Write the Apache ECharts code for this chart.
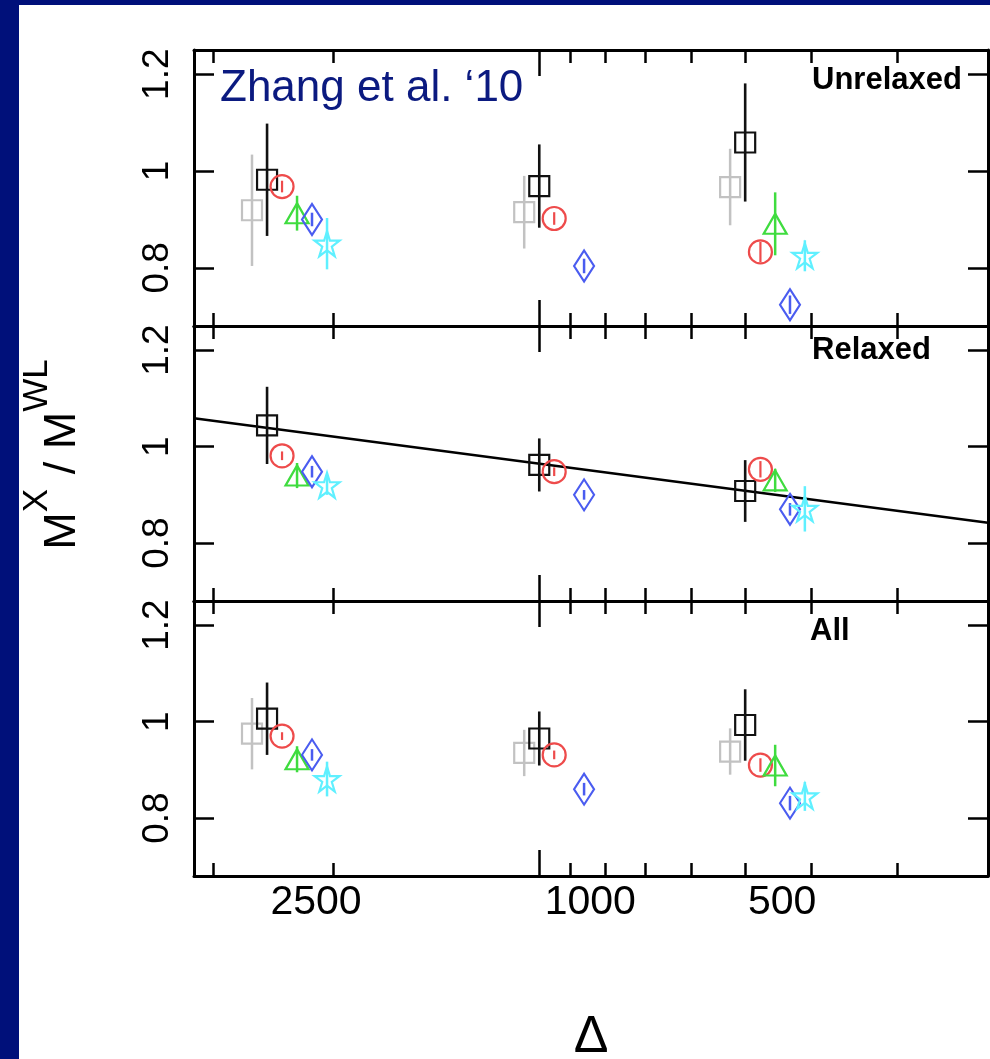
<!DOCTYPE html>
<html>
<head>
<meta charset="utf-8">
<script src="https://cdn.jsdelivr.net/npm/echarts@6/dist/echarts.min.js"></script>
<style>
  html, body { margin: 0; padding: 0; width: 990px; height: 1059px; background: #00107a; overflow: hidden; }
  #chart { position: absolute; left: 19px; top: 5px; width: 971px; height: 1054px; background: #ffffff; }
</style>
</head>
<body>
<div id="chart"></div>
<script>
// Overdensity groups (x axis is log-scaled and runs from high to low Δ)
const DELTA = [2500, 1000, 500];
const deltaLabels = ['2500', '1000', '500'];

// Δ at which each estimator is plotted (staggered within each group)
const xGray  = [2630, 1052, 526];
const xBlack = [2500, 1000, 500];
const xRed   = [2377, 951, 475];
const xGreen = [2260, 904, 452];
const xBlue  = [2149, 860, 430];
const xCyan  = [2043, 817, 409];

// Panels, top to bottom
const panelNames = ['Unrelaxed', 'Relaxed', 'All'];

// M^X / M^WL per panel (rows) and Δ group (columns), with 1σ errors
const grayVal  = [[0.919, 0.915, 0.967], [null, null, null], [0.975, 0.935, 0.938]];
const grayErr  = [[0.115, 0.075, 0.079], [null, null, null], [0.074, 0.048, 0.048]];
const blackVal = [[0.982, 0.969, 1.059], [1.044, 0.962, 0.908], [1.006, 0.965, 0.993]];
const blackErr = [[0.116, 0.086, 0.122], [0.080, 0.055, 0.064], [0.075, 0.056, 0.074]];
const redVal   = [[0.968, 0.902, 0.833], [0.981, 0.948, 0.953], [0.970, 0.931, 0.910]];
const redErr   = [[0.012, 0.013, 0.021], [0.009, 0.009, 0.017], [0.008, 0.009, 0.014]];
const greenVal = [[0.913, null, 0.891], [0.940, null, 0.930], [0.922, null, 0.909]];
const greenErr = [[0.036, null, 0.065], [0.026, null, 0.024], [0.027, null, 0.043]];
const blueVal  = [[0.900, 0.804, 0.724], [0.948, 0.900, 0.870], [0.931, 0.860, 0.831]];
const blueErr  = [[0.014, 0.015, 0.019], [0.012, 0.010, 0.013], [0.012, 0.013, 0.015]];
const cyanVal  = [[0.850, null, 0.825], [0.920, null, 0.871], [0.881, null, 0.845]];
const cyanErr  = [[0.053, null, 0.032], [0.020, null, 0.047], [0.036, null, 0.030]];

// Power-law fit for the relaxed sample, evaluated at the ends of the Δ range
const fitDelta = [3197, 220.8];
const fitRatio = [1.059, 0.842];

// Tick positions
const yTicks = [0.8, 1, 1.2];
const minorDeltaTicks = [3000, 2000, 900, 800, 700, 600, 500, 400, 300];
const majorDeltaTicks = [1000];

const lg = Math.log10;
const DELTA_MIN = 220.8, DELTA_MAX = 3197;
const FONT = '"Liberation Sans", Arial, Helvetica, sans-serif';

const chart = echarts.init(document.getElementById('chart'), null, { renderer: 'canvas' });

const gridBoxes = [
  { top: 45, height: 276 },
  { top: 321, height: 275 },
  { top: 596, height: 275 }
];
const grid = gridBoxes.map(b => ({ left: 175, right: 2, top: b.top, height: b.height, outerBoundsMode: 'none', containLabel: false }));

function xAxisFor(g, position, ticks, len, showLine, extra) {
  return Object.assign({
    type: 'value', gridIndex: g, position: position,
    min: lg(DELTA_MIN), max: lg(DELTA_MAX), inverse: true,
    axisLine: { show: showLine, onZero: false, lineStyle: { color: '#000', width: 3 } },
    axisTick: { show: true, inside: true, length: len, customValues: ticks.map(lg), lineStyle: { color: '#000', width: 2.5 } },
    axisLabel: { show: false },
    splitLine: { show: false }
  }, extra || {});
}

function yAxisFor(g, position, withLabels, extra) {
  return Object.assign({
    type: 'value', gridIndex: g, position: position,
    min: 0.68, max: 1.25,
    axisLine: { show: true, onZero: false, lineStyle: { color: '#000', width: 3 } },
    axisTick: { show: true, inside: true, length: 20, customValues: yTicks, lineStyle: { color: '#000', width: 2.5 } },
    axisLabel: withLabels ? {
      show: true, customValues: yTicks, rotate: 90, margin: 18,
      fontSize: 37, color: '#000', fontFamily: FONT
    } : { show: false },
    splitLine: { show: false }
  }, extra || {});
}

const xAxis = [];
const yAxis = [];
for (let g = 0; g < 3; g++) {
  const bottomExtra = g === 2 ? {
    name: 'Δ', nameLocation: 'middle', nameGap: 136,
    nameTextStyle: { fontSize: 52, color: '#000', fontFamily: FONT },
    axisLabel: {
      show: true, customValues: DELTA.map(lg), margin: 6,
      fontSize: 41, color: '#000', fontFamily: FONT,
      formatter: function (v) {
        const i = DELTA.findIndex(d => Math.abs(lg(d) - v) < 1e-6);
        return '{p' + i + '|' + deltaLabels[i] + '}';
      },
      rich: {
        p0: { fontSize: 41, fontFamily: FONT, color: '#000', padding: [0, 0, 0, 98] },
        p1: { fontSize: 41, fontFamily: FONT, color: '#000', padding: [0, 0, 0, 102] },
        p2: { fontSize: 41, fontFamily: FONT, color: '#000', padding: [0, 0, 0, 74] }
      }
    }
  } : null;
  xAxis.push(xAxisFor(g, 'bottom', minorDeltaTicks, 13, true, bottomExtra));
  xAxis.push(xAxisFor(g, 'bottom', majorDeltaTicks, 26, false));
  xAxis.push(xAxisFor(g, 'top', minorDeltaTicks, 13, true));
  xAxis.push(xAxisFor(g, 'top', majorDeltaTicks, 26, false));

  const leftExtra = g === 1 ? {
    name: '{m|M}{s|X}{m| / M}{s|WL}', nameLocation: 'middle', nameRotate: 90, nameGap: 109,
    nameTextStyle: {
      color: '#000', fontFamily: FONT, padding: [0, 0, 0, 20],
      rich: {
        m: { fontSize: 45, fontFamily: FONT, color: '#000', verticalAlign: 'bottom', padding: [20, 0, 0, 0] },
        s: { fontSize: 35, fontFamily: FONT, color: '#000', verticalAlign: 'top', padding: [0, 2, 0, 0] }
      }
    }
  } : null;
  yAxis.push(yAxisFor(g, 'left', true, leftExtra));
  yAxis.push(yAxisFor(g, 'right', false));
}

// Vertical error bars drawn through the axis scales
function errorSeries(g, xs, vals, errs, color, width) {
  const data = [];
  vals[g].forEach((v, i) => { if (v != null) data.push([lg(xs[i]), v, errs[g][i]]); });
  return {
    type: 'custom', xAxisIndex: 4 * g, yAxisIndex: 2 * g, z: 3, silent: true,
    encode: { x: 0, y: 1 },
    data: data,
    renderItem: function (params, api) {
      const x = api.value(0), y = api.value(1), e = api.value(2);
      const p1 = api.coord([x, y - e]);
      const p2 = api.coord([x, y + e]);
      return { type: 'line', shape: { x1: p1[0], y1: p1[1], x2: p2[0], y2: p2[1] }, style: { stroke: color, lineWidth: width } };
    }
  };
}

const STAR = 'path://M50,0 L61.2,34.5 L97.6,34.5 L68.2,55.9 L79.4,90.5 L50,69.1 L20.6,90.5 L31.8,55.9 L2.4,34.5 L38.8,34.5 Z';

function markerSeries(g, xs, vals, symbol, size, color) {
  const data = [];
  vals[g].forEach((v, i) => { if (v != null) data.push([lg(xs[i]), v]); });
  return {
    type: 'scatter', xAxisIndex: 4 * g, yAxisIndex: 2 * g, z: 4, silent: true,
    symbol: symbol, symbolSize: size,
    itemStyle: { color: 'rgba(255,255,255,0)', borderColor: color, borderWidth: 2.2, opacity: 1 },
    data: data
  };
}

const COLORS = { gray: '#c2c2c2', black: '#111111', red: '#ee4b4b', green: '#3fdc3f', blue: '#4a5cf0', cyan: '#5ff0ff' };

const series = [];
for (let g = 0; g < 3; g++) {
  series.push(errorSeries(g, xGray, grayVal, grayErr, COLORS.gray, 2.5));
  series.push(markerSeries(g, xGray, grayVal, 'rect', 20, COLORS.gray));
  series.push(errorSeries(g, xBlack, blackVal, blackErr, COLORS.black, 2.6));
  series.push(markerSeries(g, xBlack, blackVal, 'rect', 20, COLORS.black));
  series.push(errorSeries(g, xRed, redVal, redErr, COLORS.red, 2.2));
  series.push(markerSeries(g, xRed, redVal, 'circle', 23, COLORS.red));
  series.push(errorSeries(g, xGreen, greenVal, greenErr, COLORS.green, 2.5));
  series.push(markerSeries(g, xGreen, greenVal, 'triangle', [23, 20], COLORS.green));
  series.push(errorSeries(g, xBlue, blueVal, blueErr, COLORS.blue, 2.5));
  series.push(markerSeries(g, xBlue, blueVal, 'diamond', [20, 31], COLORS.blue));
  series.push(errorSeries(g, xCyan, cyanVal, cyanErr, COLORS.cyan, 2.5));
  series.push(markerSeries(g, xCyan, cyanVal, STAR, 25, COLORS.cyan));
}

// Relaxed-sample trend line
series.push({
  type: 'line', xAxisIndex: 4, yAxisIndex: 2, z: 2, silent: true,
  symbol: 'none', lineStyle: { color: '#000', width: 2.5 },
  data: fitDelta.map((d, i) => [lg(d), fitRatio[i]])
});

const graphic = [
  { type: 'text', x: 201, y: 84, style: { text: 'Zhang et al. ‘10', fill: '#0b1a80', font: '44px ' + FONT, align: 'left', verticalAlign: 'middle' } },
  { type: 'text', x: 793, y: 75, style: { text: panelNames[0], fill: '#000', font: 'bold 31px ' + FONT, align: 'left', verticalAlign: 'middle' } },
  { type: 'text', x: 793, y: 345, style: { text: panelNames[1], fill: '#000', font: 'bold 31px ' + FONT, align: 'left', verticalAlign: 'middle' } },
  { type: 'text', x: 791, y: 626, style: { text: panelNames[2], fill: '#000', font: 'bold 31px ' + FONT, align: 'left', verticalAlign: 'middle' } }
];

chart.setOption({
  animation: false,
  backgroundColor: '#ffffff',
  grid: grid,
  xAxis: xAxis,
  yAxis: yAxis,
  series: series,
  graphic: graphic
});
</script>
</body>
</html>
